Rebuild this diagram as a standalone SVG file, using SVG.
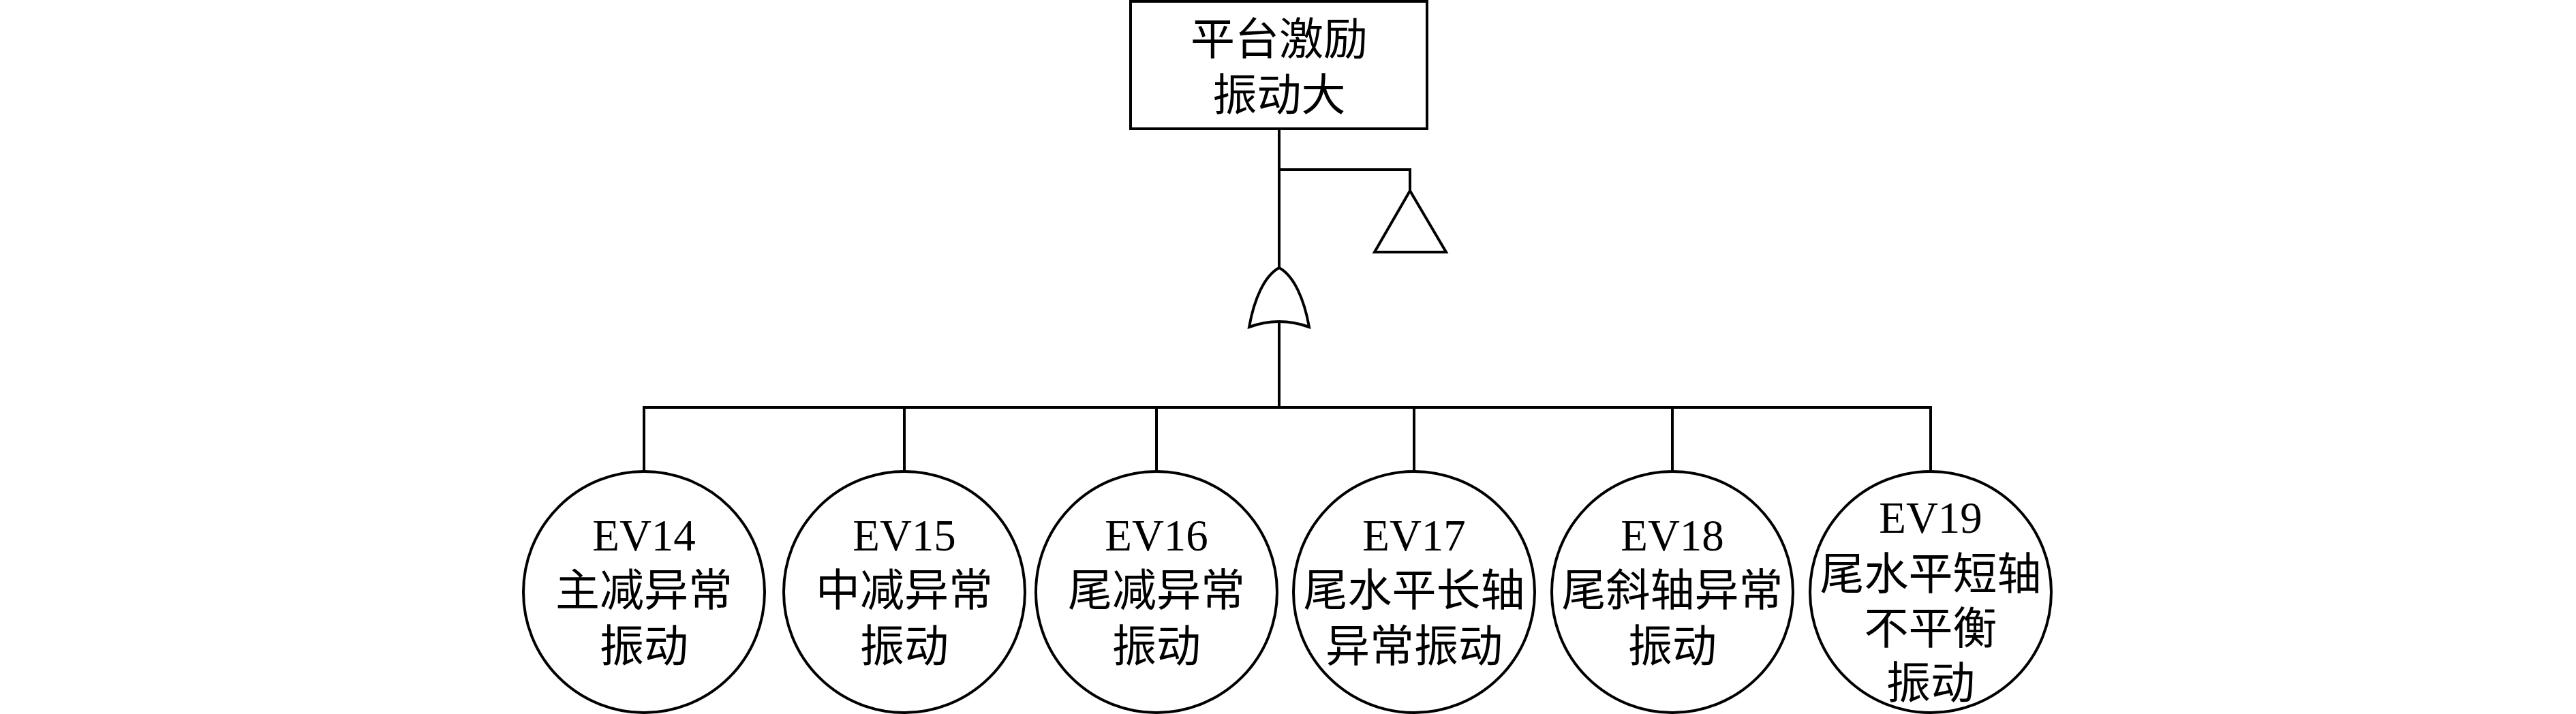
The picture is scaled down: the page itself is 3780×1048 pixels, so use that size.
<svg xmlns="http://www.w3.org/2000/svg" width="3780" height="1048" viewBox="0 0 3780 1048">
<style>
.ln{fill:none;stroke:#000;stroke-width:4;stroke-linejoin:miter;stroke-linecap:square}
.sh{fill:#fff;stroke:#000;stroke-width:4}
.t{font-family:"Liberation Serif","Noto Sans CJK SC",serif;font-size:65px;fill:#000;text-anchor:middle}
</style>
<rect width="3780" height="1048" fill="#fff"/>
<g id="connectors">
<path class="ln" d="M1877 189V393"/>
<path class="ln" d="M1877 249H2069V280"/>
<path class="ln" d="M1877 472V598"/>
<path class="ln" d="M945 692V598H2833V692"/>
<path class="ln" d="M1327 598V692"/>
<path class="ln" d="M1697 598V692"/>
<path class="ln" d="M2075 598V692"/>
<path class="ln" d="M2454 598V692"/>
</g>
<g id="top">
<rect class="sh" x="1659" y="2" width="435" height="187"/>
<text class="t" x="1877" y="80">平台激励</text>
<text class="t" x="1877" y="162">振动大</text>
</g>
<g id="transfer">
<path class="sh" d="M2069 280L2122 370H2017Z"/>
</g>
<g id="orgate">
<path class="sh" d="M1833 480C1840 440 1855 405 1877 393C1899 405 1914 440 1921 480Q1877 464 1833 480Z"/>
</g>
<g id="ev14">
<circle class="sh" cx="945" cy="869" r="177"/>
<text class="t" x="945" y="808">EV14</text>
<text class="t" x="945" y="889">主减异常</text>
<text class="t" x="945" y="971">振动</text>
</g>
<g id="ev15">
<circle class="sh" cx="1327" cy="869" r="177"/>
<text class="t" x="1327" y="808">EV15</text>
<text class="t" x="1327" y="889">中减异常</text>
<text class="t" x="1327" y="971">振动</text>
</g>
<g id="ev16">
<circle class="sh" cx="1697" cy="869" r="177"/>
<text class="t" x="1697" y="808">EV16</text>
<text class="t" x="1697" y="889">尾减异常</text>
<text class="t" x="1697" y="971">振动</text>
</g>
<g id="ev17">
<circle class="sh" cx="2075" cy="869" r="177"/>
<text class="t" x="2075" y="808">EV17</text>
<text class="t" x="2075" y="889">尾水平长轴</text>
<text class="t" x="2075" y="971">异常振动</text>
</g>
<g id="ev18">
<circle class="sh" cx="2454" cy="869" r="177"/>
<text class="t" x="2454" y="808">EV18</text>
<text class="t" x="2454" y="889">尾斜轴异常</text>
<text class="t" x="2454" y="971">振动</text>
</g>
<g id="ev19">
<circle class="sh" cx="2833" cy="869" r="177"/>
<text class="t" x="2833" y="782">EV19</text>
<text class="t" x="2833" y="865">尾水平短轴</text>
<text class="t" x="2833" y="945">不平衡</text>
<text class="t" x="2833" y="1025">振动</text>
</g>
</svg>
